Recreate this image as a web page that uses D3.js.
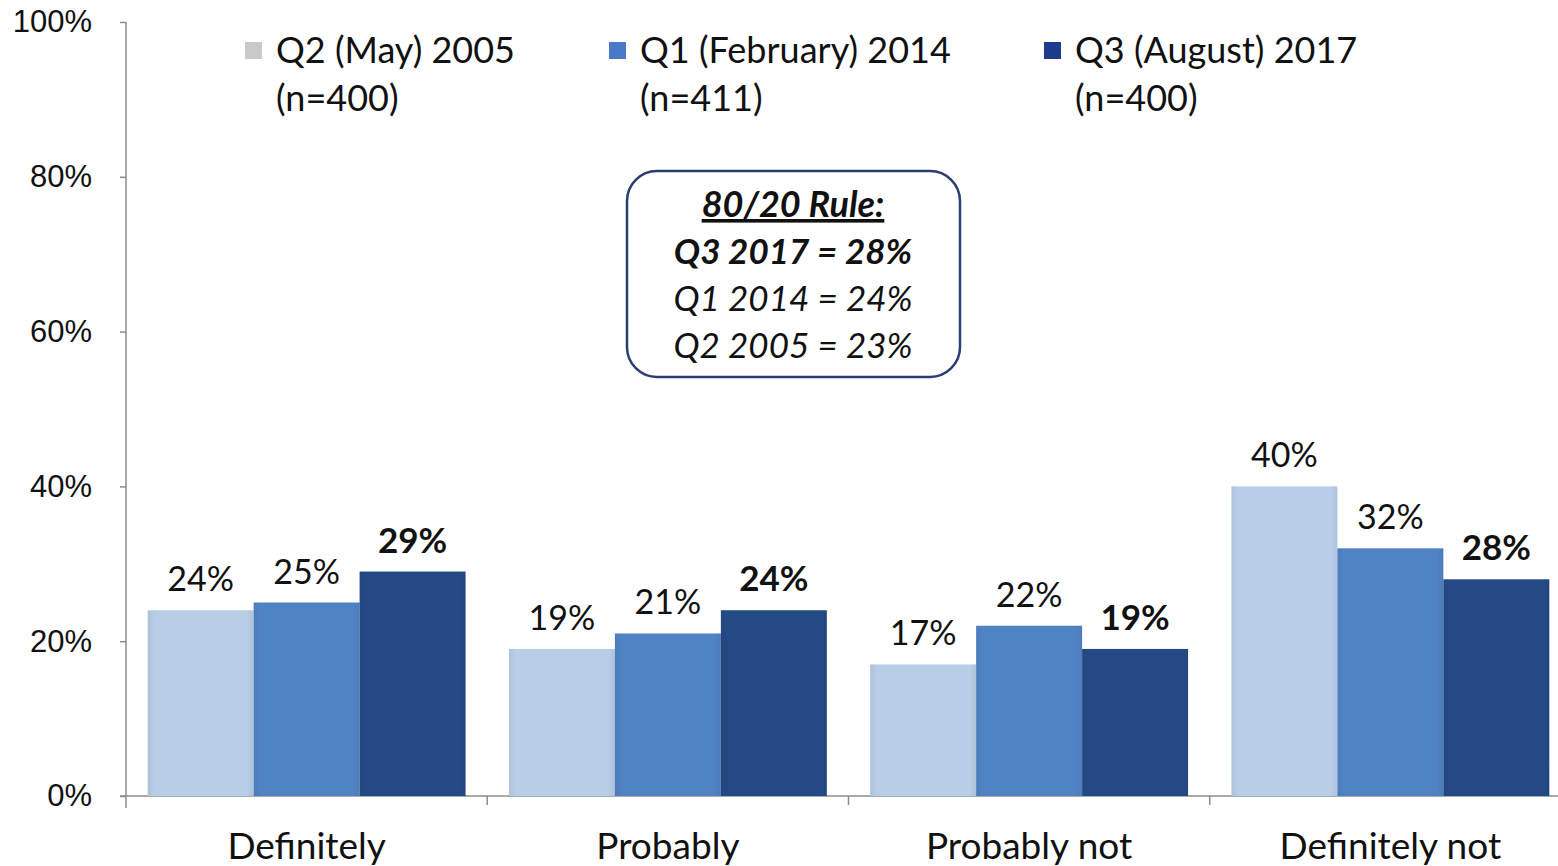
<!DOCTYPE html>
<html>
<head>
<meta charset="utf-8">
<script src="https://cdn.jsdelivr.net/npm/d3@7"></script>
<style>
  body { margin: 0; background: #fff; }
  svg { display: block; font-family: Lato, "Open Sans", "Noto Sans", sans-serif; }
</style>
</head>
<body>
<svg width="1558" height="866"></svg>
<script>
// data
const categories = ["Definitely", "Probably", "Probably not", "Definitely not"];
const seriesNames = ["Q2 (May) 2005", "Q1 (February) 2014", "Q3 (August) 2017"];
const seriesN = ["(n=400)", "(n=411)", "(n=400)"];
const q2_2005 = [24, 19, 17, 40];
const q1_2014 = [25, 21, 22, 32];
const q3_2017 = [29, 24, 19, 28];
const yTicks = [0, 20, 40, 60, 80, 100];
const ruleTitle = "80/20 Rule:";
const ruleLines = ["Q3 2017 = 28%", "Q1 2014 = 24%", "Q2 2005 = 23%"];

const seriesValues = [q2_2005, q1_2014, q3_2017];
const barColors = ["#b8cde6", "#5083c4", "#244a85"];
const swatchColors = ["#c9c9c9", "#4a79c9", "#1f3a8a"];

var svg = d3.select("svg"),
    margin = {top: 22, right: -13, bottom: 70, left: 126},
    width = +svg.attr("width") - margin.left - margin.right,
    height = +svg.attr("height") - margin.top - margin.bottom,
    g = svg.append("g").attr("transform", "translate(" + margin.left + "," + margin.top + ")");

var x0 = d3.scaleBand()
    .domain(categories)
    .range([0, width])
    .paddingInner(0.12)
    .paddingOuter(0.06);

var x1 = d3.scaleBand()
    .domain(d3.range(seriesNames.length))
    .range([0, x0.bandwidth()]);

var y = d3.scaleLinear()
    .domain([0, 100])
    .range([height, 0]);

// gradients to give the bars a slight bevel
var defs = svg.append("defs");
barColors.forEach(function(c, i) {
    var grad = defs.append("linearGradient").attr("id", "bar" + i)
        .attr("x1", "0").attr("x2", "1").attr("y1", "0").attr("y2", "0");
    var dark = d3.color(c).darker(0.15);
    grad.append("stop").attr("offset", "0%").attr("stop-color", dark);
    grad.append("stop").attr("offset", "6%").attr("stop-color", c);
    grad.append("stop").attr("offset", "94%").attr("stop-color", c);
    grad.append("stop").attr("offset", "100%").attr("stop-color", dark);
});

// y axis
var yAxis = g.append("g")
    .call(d3.axisLeft(y).tickValues(yTicks).tickFormat(function(d) { return d + "%"; }).tickSize(6).tickPadding(28));
yAxis.select(".domain").attr("stroke", "#8c8c8c").attr("stroke-width", 1.5).attr("d", "M0," + y(100) + "V" + (height + 12));
yAxis.selectAll(".tick line").attr("stroke", "#8c8c8c").attr("stroke-width", 1.5);
yAxis.selectAll(".tick text")
    .attr("fill", "#111")
    .style("font-size", "31px");

// x axis line with ticks at category boundaries
var boundaries = categories.map(function(c) { return x0(c) - x0.step() * x0.paddingInner() / 2; }).slice(1);
g.append("line")
    .attr("x1", -6).attr("x2", width)
    .attr("y1", height).attr("y2", height)
    .attr("stroke", "#8c8c8c").attr("stroke-width", 1.5);
g.selectAll(".xtick")
    .data(boundaries)
    .enter().append("line")
    .attr("x1", function(d) { return d; }).attr("x2", function(d) { return d; })
    .attr("y1", height).attr("y2", height + 9)
    .attr("stroke", "#8c8c8c").attr("stroke-width", 1.5);

g.selectAll(".cat")
    .data(categories)
    .enter().append("text")
    .attr("x", function(d) { return x0(d) + x0.bandwidth() / 2; })
    .attr("y", height + 63)
    .attr("text-anchor", "middle")
    .attr("fill", "#111")
    .style("font-size", "37px")
    .text(function(d) { return d; });

// bars
var groups = g.selectAll(".grp")
    .data(categories)
    .enter().append("g")
    .attr("transform", function(d) { return "translate(" + x0(d) + ",0)"; });

groups.selectAll("rect")
    .data(function(d, ci) { return seriesValues.map(function(s, si) { return {si: si, v: s[ci]}; }); })
    .enter().append("rect")
    .attr("x", function(d) { return x1(d.si); })
    .attr("y", function(d) { return y(d.v); })
    .attr("width", x1.bandwidth())
    .attr("height", function(d) { return height - y(d.v); })
    .attr("fill", function(d) { return "url(#bar" + d.si + ")"; });

groups.selectAll(".lbl")
    .data(function(d, ci) { return seriesValues.map(function(s, si) { return {si: si, v: s[ci]}; }); })
    .enter().append("text")
    .attr("x", function(d) { return x1(d.si) + x1.bandwidth() / 2; })
    .attr("y", function(d) { return y(d.v) - 19; })
    .attr("text-anchor", "middle")
    .attr("fill", "#111")
    .style("font-size", function(d) { return d.si == 2 ? "35px" : "34px"; })
    .style("font-weight", function(d) { return d.si == 2 ? "bold" : "normal"; })
    .text(function(d) { return d.v + "%"; });

// legend
var legendX = [245, 609, 1044];
var legend = svg.selectAll(".leg")
    .data(seriesNames)
    .enter().append("g")
    .attr("transform", function(d, i) { return "translate(" + legendX[i] + ",0)"; });
legend.append("rect")
    .attr("x", 0).attr("y", 42)
    .attr("width", 17).attr("height", 17)
    .attr("fill", function(d, i) { return swatchColors[i]; });
legend.append("text")
    .attr("x", 31).attr("y", 63)
    .attr("fill", "#111")
    .style("font-size", "36px")
    .text(function(d) { return d; });
legend.append("text")
    .attr("x", 31).attr("y", 111)
    .attr("fill", "#111")
    .style("font-size", "36px")
    .text(function(d, i) { return seriesN[i]; });

// 80/20 rule box
var box = svg.append("g").attr("transform", "translate(793,0)");
box.append("rect")
    .attr("x", -166).attr("y", 171)
    .attr("width", 333).attr("height", 206)
    .attr("rx", 30).attr("ry", 30)
    .attr("fill", "#fff")
    .attr("stroke", "#2b3d72").attr("stroke-width", 2.5);
box.append("text")
    .attr("x", 0).attr("y", 217)
    .attr("text-anchor", "middle")
    .attr("fill", "#111")
    .style("font-size", "36px").style("font-weight", "bold").style("font-style", "italic")
    .style("text-decoration", "underline")
    .text(ruleTitle);
box.selectAll(".rl")
    .data(ruleLines)
    .enter().append("text")
    .attr("x", 0)
    .attr("y", function(d, i) { return 264 + i * 47; })
    .attr("text-anchor", "middle")
    .attr("fill", "#111")
    .style("font-size", "35px")
    .style("font-style", "italic")
    .style("font-weight", function(d, i) { return i == 0 ? "bold" : "normal"; })
    .text(function(d) { return d; });
</script>
</body>
</html>
